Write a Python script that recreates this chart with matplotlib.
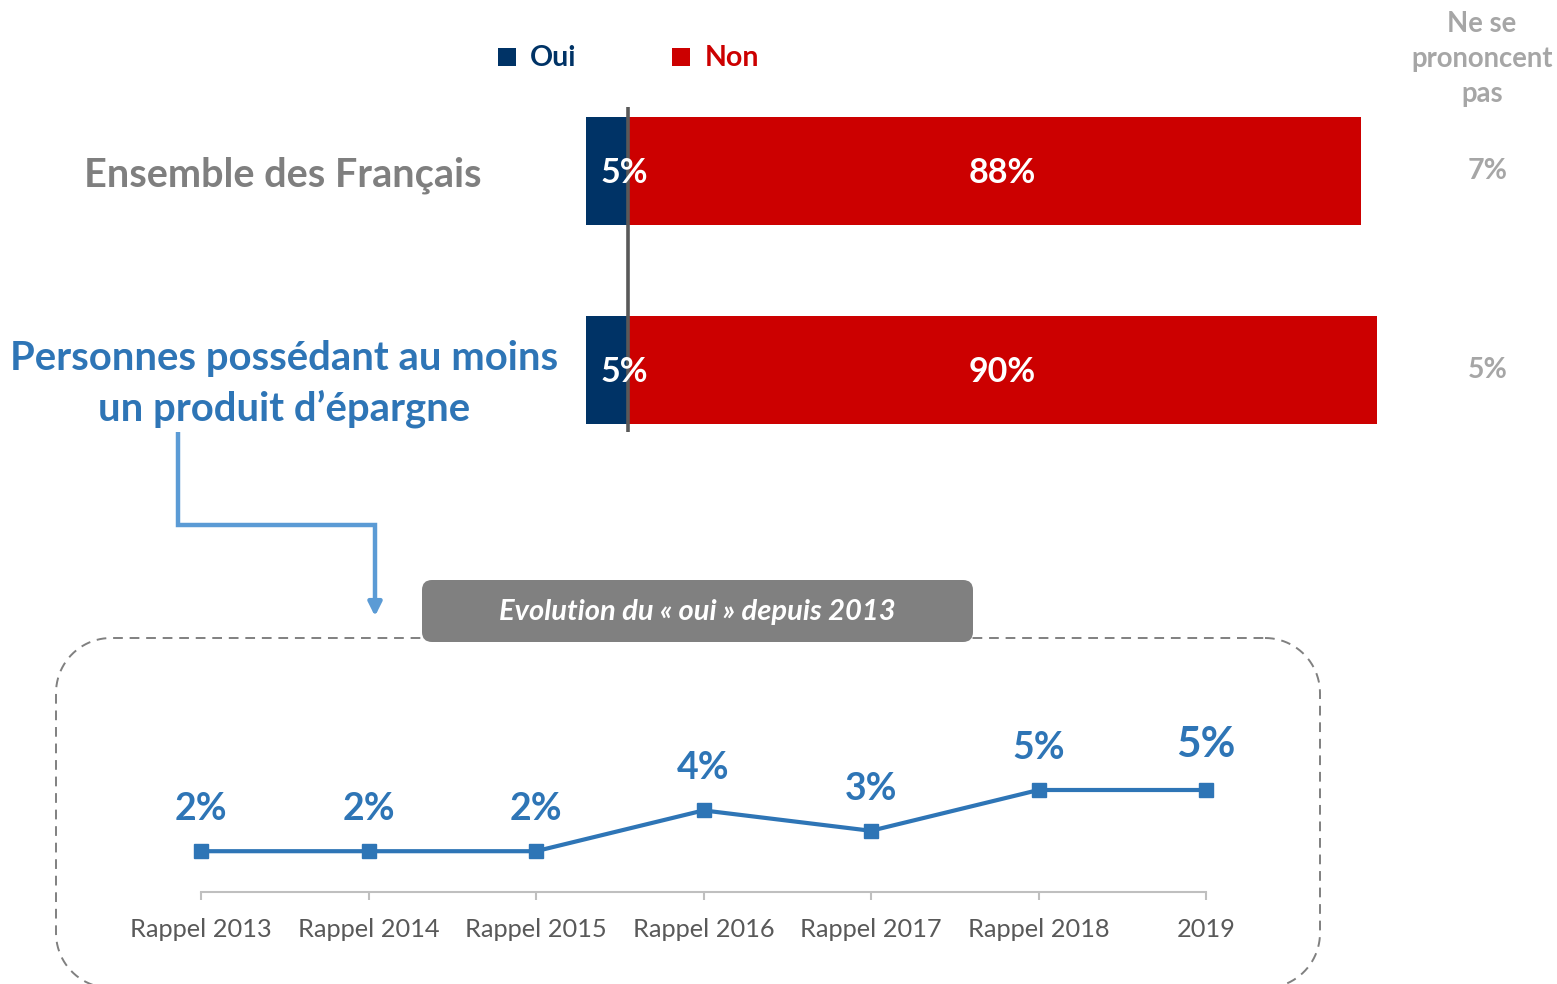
import matplotlib
matplotlib.use("Agg")
import numpy as np
import matplotlib.pyplot as plt
from matplotlib.patches import FancyBboxPatch, Rectangle

# ---------------- data ----------------
groups = ["Ensemble des Français", "Personnes possédant au moins\nun produit d’épargne"]
oui = [5, 5]
non = [88, 90]
nsp = [7, 5]
legend_labels = ["Oui", "Non"]
nsp_header = "Ne se\nprononcent\npas"

years = ["Rappel 2013", "Rappel 2014", "Rappel 2015", "Rappel 2016",
         "Rappel 2017", "Rappel 2018", "2019"]
evol_oui = [2, 2, 2, 4, 3, 5, 5]
evol_title = "Evolution du « oui » depuis 2013"

# ---------------- style ----------------
FONT = ["Lato", "DejaVu Sans"]
plt.rcParams["font.family"] = FONT
plt.rcParams["path.simplify"] = False
C_OUI = "#003366"
C_NON = "#CC0000"
C_BLUE = "#2E75B6"
C_ARROW = "#5B9BD5"
C_GRAY = "#7F7F7F"
C_LGRAY = "#A6A6A6"

W, H = 1557, 984
fig = plt.figure(figsize=(W / 100, H / 100), dpi=100)

def fx(px):
    return px / W

def fy(py):
    return 1 - py / H

# overlay axes in pixel coordinates for decorations
ov = fig.add_axes([0, 0, 1, 1], zorder=0)
ov.set_xlim(0, W)
ov.set_ylim(H, 0)
ov.axis("off")

# dashed rounded frame (polyline with arc corners)
def rounded_rect(x0, y0, x1, y1, r, n=24):
    pts = []
    corners = [(x1 - r, y0 + r, -90, 0), (x1 - r, y1 - r, 0, 90),
               (x0 + r, y1 - r, 90, 180), (x0 + r, y0 + r, 180, 270)]
    for cx, cy, a0, a1 in corners:
        t = np.radians(np.linspace(a0, a1, n))
        pts.append(np.column_stack([cx + r * np.cos(t), cy + r * np.sin(t)]))
    pts = np.vstack(pts)
    return np.vstack([pts, pts[:1]])

rr = rounded_rect(56, 638, 1320, 988, 55)
ov.plot(rr[:, 0], rr[:, 1], color="#808080", lw=1.4, linestyle=(0, (5, 3.5)),
        zorder=1, clip_on=False)

# grey title box
tbox = FancyBboxPatch((422, 580), 551, 62,
                      boxstyle="round,pad=0,rounding_size=10",
                      fc="#808080", ec="none", zorder=2)
ov.add_patch(tbox)
ov.text(697, 612, evol_title, color="white", fontsize=21, fontweight="bold",
        fontstyle="italic", ha="center", va="center", zorder=3)

# connector arrow
ov.plot([178, 178, 375, 375], [432, 525, 525, 606], color=C_ARROW, lw=3.2,
        solid_capstyle="butt", solid_joinstyle="miter", zorder=2)
ov.annotate("", xy=(375, 619), xytext=(375, 600),
            arrowprops=dict(arrowstyle="-|>,head_width=0.4,head_length=0.8",
                            color=C_ARROW, lw=3.2), zorder=2)

# ---------------- bar chart ----------------
px_per_pct = 8.33
ax_left = 586
ax_w = 100 * px_per_pct
bar_top, bar_bot = 100, 440
ax = fig.add_axes([fx(ax_left), fy(bar_bot), ax_w / W, (bar_bot - bar_top) / H],
                  zorder=2)
ax.patch.set_alpha(0)
ypos = [0, 1]
unit = 199.0
ax.set_xlim(0, 100)
ax.set_ylim(1 + (bar_bot - 370) / unit, -(171 - bar_top) / unit)
ax.axis("off")
bh = 108 / unit
ax.barh(ypos, oui, height=bh, color=C_OUI, edgecolor="none")
ax.barh(ypos, non, left=oui, height=bh, color=C_NON, edgecolor="none")
ax.vlines(oui[0], -(171 - 107) / unit, (432 - 171) / unit, color="#595959", lw=2.6,
          clip_on=False)
for y, o, n in zip(ypos, oui, non):
    ax.text(o - 0.45, y + 0.01, f"{o}%", color="white", fontsize=24.5,
            fontweight="bold", ha="center", va="center")
    ax.text(50, y + 0.01, f"{n}%", color="white", fontsize=24.5,
            fontweight="bold", ha="center", va="center")

# group labels
fig.text(fx(481), fy(175), groups[0], color=C_GRAY, fontsize=28.5,
         fontweight="bold", ha="right", va="center")
fig.text(fx(284), fy(384), groups[1], color=C_BLUE, fontsize=28.8,
         fontweight="bold", ha="center", va="center", linespacing=1.42)

# legend
fig.add_artist(Rectangle((fx(498), fy(66)), 18 / W, 18 / H, transform=fig.transFigure,
                         fc=C_OUI, ec="none"))
fig.text(fx(530), fy(58), legend_labels[0], color=C_OUI, fontsize=20.5,
         fontweight="bold", ha="left", va="center")
fig.add_artist(Rectangle((fx(672), fy(66)), 18 / W, 18 / H, transform=fig.transFigure,
                         fc=C_NON, ec="none"))
fig.text(fx(705), fy(58), legend_labels[1], color=C_NON, fontsize=20.5,
         fontweight="bold", ha="left", va="center")

# NSP column
fig.text(fx(1482), fy(59), nsp_header, color=C_LGRAY, fontsize=19.8,
         fontweight="bold", ha="center", va="center", linespacing=1.42)
for yc, v in zip([171, 370], nsp):
    fig.text(fx(1488), fy(yc), f"{v}%", color=C_LGRAY, fontsize=20.5,
             fontweight="bold", ha="center", va="center")

# ---------------- evolution line chart ----------------
l_left, l_right = 201, 1206
l_base, l_top = 892, 690
ppu = 20.4
axl = fig.add_axes([fx(l_left), fy(l_base), (l_right - l_left) / W, (l_base - l_top) / H],
                   zorder=3)
axl.patch.set_alpha(0)
xs = list(range(len(years)))
axl.set_xlim(0, len(years) - 1)
axl.set_ylim(0, (l_base - l_top) / ppu)
for s in ["top", "right", "left"]:
    axl.spines[s].set_visible(False)
axl.spines["bottom"].set_color("#BFBFBF")
axl.spines["bottom"].set_linewidth(1.5)
axl.set_yticks([])
axl.set_xticks(xs)
axl.set_xticklabels(years, color="#595959", fontsize=18.3)
axl.tick_params(axis="x", length=6, width=1.5, color="#BFBFBF", pad=13)
axl.plot(xs, evol_oui, color=C_BLUE, lw=3, marker="s", markersize=10,
         clip_on=False, zorder=5)
for i, (x, v) in enumerate(zip(xs, evol_oui)):
    last = i == len(xs) - 1
    axl.annotate(f"{v}%", (x, v), xytext=(0, 45 if last else 42),
                 textcoords="offset pixels", ha="center", va="center",
                 color=C_BLUE, fontsize=30.5 if last else 27, fontweight="bold")

fig.savefig("out.png", dpi=100)
